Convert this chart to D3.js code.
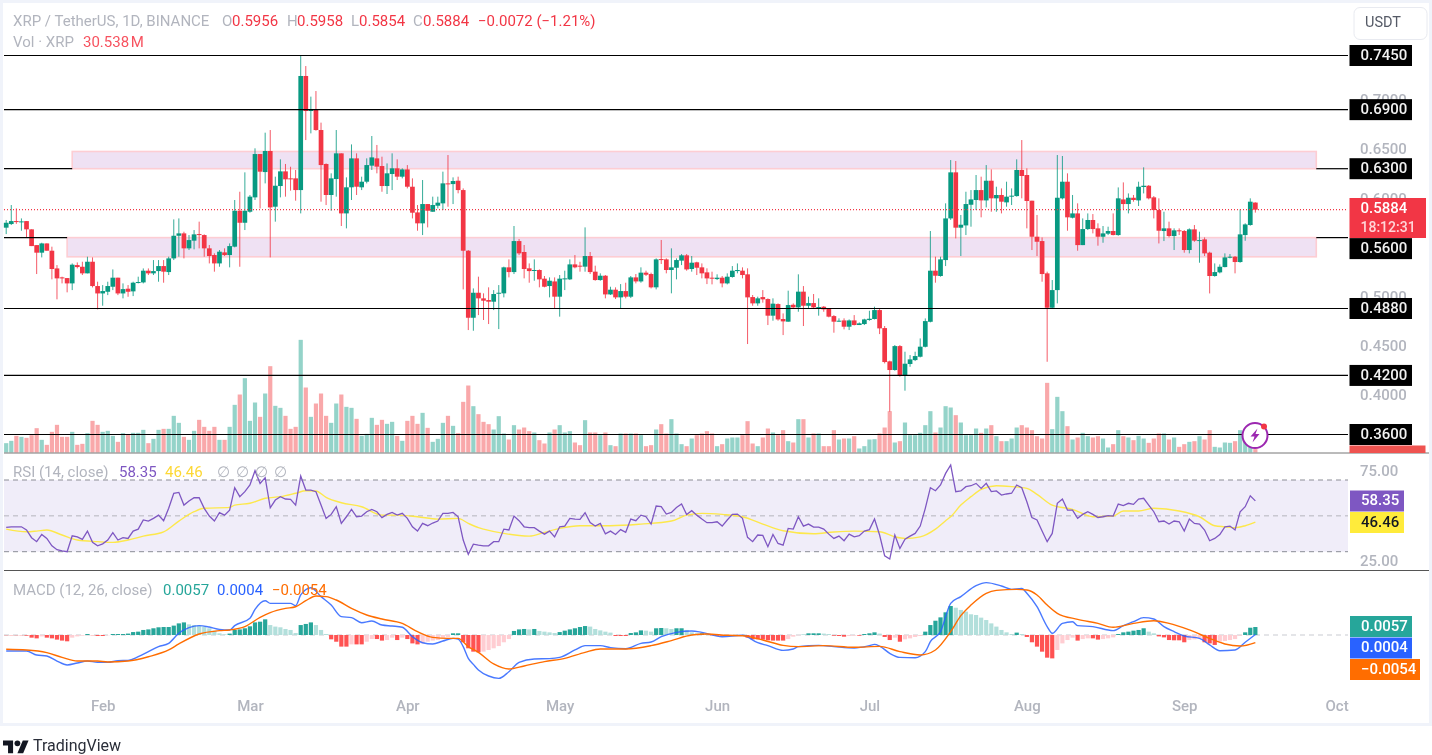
<!DOCTYPE html>
<html><head><meta charset="utf-8">
<script src="https://cdn.jsdelivr.net/npm/d3@7/dist/d3.min.js"></script>
<style>
html,body{margin:0;padding:0;background:#fff;overflow:hidden}
svg{display:block;filter:blur(.5px)}
text{font-family:Roboto,"Open Sans",sans-serif}
</style></head><body><svg id="c" width="1432" height="755"></svg>
<script>
const firstDay = "2024-01-13";
const opens=[
.5701,.5738,.5768,.5755,.5768,.5684,.5524,.5447,.5541,.5467,
.5287,.5196,.5189,.5135,.5321,.5304,.5237,.5355,.5108,.5033,
.5050,.5101,.5193,.5033,.5081,.5054,.5142,.5145,.5264,.5237,
.5260,.5311,.5250,.5389,.5619,.5643,.5491,.5569,.5636,.5626,
.5491,.5423,.5338,.5450,.5423,.5508,.5873,.5751,.5863,.6009,
.6449,.6266,.6480,.5914,.6124,.6273,.6202,.6202,.6083,.7242,
.6886,.6900,.6693,.6348,.6033,.6195,.6456,.5846,.6111,.6405,
.6111,.6168,.6331,.6405,.6327,.6124,.6246,.6304,.6219,.6293,
.6117,.5856,.5745,.5941,.5863,.5924,.5948,.6151,.6144,.6178,
.6083,.5467,.4786,.5040,.4983,.4966,.4949,.5030,.5034,.5298,
.5250,.5565,.5454,.5288,.5264,.5271,.5183,.5108,.5155,.5000,
.5176,.5176,.5328,.5315,.5305,.5413,.5254,.5169,.5213,.5023,
.5071,.4993,.5057,.5000,.5196,.5155,.5244,.5230,.5095,.5382,
.5379,.5271,.5294,.5366,.5420,.5281,.5349,.5298,.5247,.5193,
.5179,.5193,.5135,.5200,.5260,.5264,.5227,.4996,.4932,.4996,
.4976,.4807,.4925,.4773,.4746,.4918,.4891,.5051,.4908,.4935,
.4888,.4898,.4881,.4803,.4746,.4759,.4695,.4759,.4712,.4722,
.4763,.4773,.4864,.4681,.4343,.4255,.4498,.4200,.4316,.4356,
.4390,.4491,.4745,.5264,.5210,.5372,.5795,.6263,.5701,.5724,
.5934,.5982,.6083,.5978,.6178,.5999,.6033,.5958,.6016,.6022,
.6287,.6236,.5975,.5609,.5565,.5237,.4888,.5067,.5999,.6168,
.5802,.5846,.5524,.5687,.5779,.5694,.5609,.5640,.5667,.5626,
.5988,.5941,.6005,.5978,.6114,.6127,.6009,.5880,.5667,.5694,
.5616,.5674,.5667,.5474,.5684,.5569,.5582,.5447,.5210,.5247,
.5301,.5396,.5406,.5352,.5626,.5728,.5956];
const highs=[
.5779,.5931,.5897,.5795,.5768,.5684,.5524,.5548,.5541,.5508,
.5321,.5203,.5189,.5338,.5348,.5355,.5406,.5399,.5152,.5118,
.5152,.5277,.5193,.5135,.5118,.5152,.5203,.5287,.5287,.5372,
.5372,.5372,.5406,.5785,.5795,.5660,.5626,.5677,.5762,.5633,
.5525,.5440,.5474,.5491,.5541,.5982,.6066,.6263,.6033,.6507,
.6449,.6666,.6693,.6219,.6395,.6348,.6320,.6287,.7455,.7343,
.7032,.7089,.6768,.6354,.6253,.6693,.6456,.6212,.6547,.6456,
.6219,.6405,.6632,.6541,.6422,.6354,.6456,.6395,.6304,.6337,
.6202,.5931,.6185,.5941,.6016,.6016,.6270,.6439,.6212,.6219,
.6100,.5474,.5084,.5203,.5034,.5095,.5067,.5118,.5305,.5379,
.5718,.5586,.5525,.5338,.5379,.5277,.5210,.5196,.5196,.5220,
.5264,.5379,.5423,.5355,.5704,.5454,.5315,.5237,.5220,.5101,
.5095,.5128,.5142,.5210,.5230,.5298,.5264,.5244,.5389,.5576,
.5389,.5491,.5389,.5433,.5433,.5413,.5355,.5338,.5288,.5254,
.5227,.5210,.5237,.5311,.5338,.5298,.5288,.5017,.5000,.5067,
.4983,.4983,.4932,.4830,.5061,.4932,.5227,.5108,.5000,.5027,
.4983,.4905,.4881,.4813,.4780,.4780,.4769,.4813,.4739,.4776,
.4857,.4898,.4881,.4702,.4350,.4509,.4509,.4441,.4407,.4441,
.4576,.4779,.5667,.5406,.5406,.5948,.6388,.6378,.5830,.6066,
.6083,.6236,.6219,.6337,.6293,.6117,.6100,.6168,.6100,.6395,
.6591,.6304,.5975,.5830,.5602,.5254,.5169,.6439,.6429,.6253,
.6033,.5948,.5795,.5846,.5839,.5745,.5718,.5711,.5846,.6110,
.6161,.6049,.6033,.6168,.6314,.6134,.6022,.5999,.5863,.5762,
.5694,.5694,.5677,.5694,.5728,.5660,.5602,.5457,.5338,.5328,
.5440,.5433,.5413,.5887,.5745,.5999,.5958];
const lows=[
.5636,.5728,.5740,.5670,.5603,.5514,.5230,.5399,.5467,.5176,
.4973,.5135,.5044,.5067,.5287,.5220,.5237,.5094,.4871,.4908,
.5016,.5067,.5016,.4983,.4999,.5006,.5135,.5135,.5220,.5220,
.5152,.5142,.5220,.5372,.5406,.5389,.5474,.5481,.5491,.5406,
.5338,.5254,.5304,.5413,.5298,.5501,.5304,.5677,.5853,.5982,
.5897,.6151,.5399,.5762,.6009,.6016,.6077,.5975,.5846,.6591,
.6659,.6686,.5965,.5931,.5873,.6016,.5718,.5694,.5982,.6033,
.6083,.6151,.6287,.6253,.6066,.6043,.6083,.6185,.6202,.6100,
.5795,.5670,.5626,.5704,.5863,.5897,.5880,.5914,.5941,.6050,
.5074,.4661,.4654,.4813,.4763,.4722,.4864,.4671,.4993,.5196,
.5230,.5423,.5186,.5142,.5162,.5095,.5095,.4993,.4881,.4797,
.5067,.5169,.5288,.5254,.5254,.5230,.5162,.5162,.4983,.5017,
.4976,.4881,.4983,.4986,.5135,.5142,.5210,.5084,.5074,.5332,
.5237,.5034,.5176,.5321,.5264,.5254,.5220,.5186,.5128,.5125,
.5169,.5095,.5125,.5193,.5237,.5186,.4519,.4908,.4908,.4939,
.4712,.4756,.4756,.4610,.4746,.4881,.4847,.4702,.4881,.4881,
.4807,.4847,.4790,.4634,.4746,.4668,.4661,.4708,.4712,.4712,
.4756,.4769,.4620,.4322,.3831,.4248,.4187,.4045,.4288,.4346,
.4383,.4485,.4739,.5142,.5203,.5311,.5780,.5592,.5413,.5626,
.5711,.5880,.5806,.5907,.5863,.5863,.5846,.5914,.5931,.6016,
.5999,.5694,.5474,.5413,.5152,.4339,.4881,.4932,.5988,.5670,
.5795,.5467,.5524,.5677,.5643,.5518,.5548,.5626,.5623,.5619,
.5887,.5846,.5965,.5921,.6049,.5988,.5795,.5541,.5565,.5602,
.5474,.5626,.5447,.5440,.5558,.5345,.5413,.5033,.5203,.5237,
.5298,.5389,.5237,.5345,.5568,.5721,.5854];
const closes=[
.5751,.5768,.5762,.5765,.5684,.5514,.5447,.5541,.5467,.5281,
.5186,.5186,.5135,.5325,.5301,.5237,.5355,.5108,.5033,.5057,
.5108,.5193,.5033,.5077,.5050,.5142,.5149,.5264,.5237,.5260,
.5311,.5254,.5389,.5619,.5643,.5491,.5575,.5633,.5626,.5491,
.5413,.5338,.5457,.5423,.5514,.5873,.5751,.5873,.6016,.6449,
.6270,.6480,.5907,.6127,.6273,.6192,.6192,.6083,.7242,.6886,
.6900,.6693,.6337,.6033,.6202,.6456,.5846,.6111,.6405,.6117,
.6168,.6337,.6415,.6321,.6124,.6253,.6304,.6219,.6293,.6117,
.5853,.5745,.5941,.5873,.5931,.5955,.6151,.6144,.6175,.6083,
.5467,.4786,.5040,.4983,.4959,.4949,.5027,.5040,.5298,.5250,
.5565,.5440,.5281,.5260,.5271,.5176,.5101,.5162,.5000,.5183,
.5186,.5328,.5298,.5305,.5413,.5250,.5169,.5213,.5023,.5071,
.4993,.5057,.5000,.5196,.5155,.5244,.5223,.5095,.5379,.5372,
.5271,.5298,.5372,.5420,.5277,.5345,.5294,.5237,.5186,.5183,
.5193,.5135,.5203,.5264,.5271,.5220,.4993,.4932,.4983,.4973,
.4807,.4929,.4769,.4749,.4915,.4891,.5051,.4908,.4935,.4891,
.4895,.4871,.4797,.4746,.4756,.4695,.4759,.4712,.4729,.4769,
.4776,.4864,.4678,.4336,.4255,.4498,.4200,.4319,.4363,.4397,
.4492,.4752,.5264,.5213,.5379,.5795,.6263,.5701,.5731,.5941,
.5988,.6083,.5978,.6178,.5999,.6033,.5965,.6016,.6026,.6287,
.6226,.5972,.5609,.5558,.5230,.4888,.5067,.6005,.6168,.5806,
.5846,.5524,.5687,.5779,.5687,.5609,.5643,.5667,.5626,.5999,
.5941,.6005,.5982,.6117,.6127,.5999,.5880,.5670,.5694,.5616,
.5674,.5667,.5474,.5684,.5569,.5575,.5440,.5210,.5250,.5304,
.5399,.5406,.5352,.5633,.5734,.5965,.5884];
const volumesM=[
84,105,150,141,132,156,219,114,69,186,
249,141,141,186,69,78,174,285,249,186,
195,150,96,174,159,177,177,204,84,123,
204,213,213,330,267,141,114,195,294,231,
195,231,114,114,231,429,522,669,285,450,
321,531,777,420,402,330,213,231,1014,585,
321,441,531,330,267,441,522,411,402,303,
150,168,312,249,294,258,276,150,105,285,
330,258,357,222,96,123,267,330,240,174,
456,603,417,345,276,255,207,327,171,117,
246,207,225,192,180,111,81,180,207,246,
180,192,90,66,291,180,180,156,180,66,
57,171,171,171,171,156,57,66,207,255,
171,300,171,75,57,126,156,171,192,171,
57,75,126,135,135,156,282,81,57,135,
216,180,156,201,102,90,300,300,135,171,
171,57,57,201,117,126,126,147,36,57,
117,120,171,225,372,90,102,270,156,156,
177,246,372,180,225,417,405,336,270,156,
156,216,177,216,246,147,102,102,126,225,
246,225,201,147,126,627,210,501,372,237,
117,135,177,147,135,147,126,45,75,201,
147,135,111,150,126,87,126,171,171,117,
135,51,75,96,102,147,117,201,51,45,
90,87,102,201,156,66,30.538];
const rsiValues=[
43.6,43.9,43.9,43.9,42.1,37.8,35.6,39.6,37.4,33.3,
31.1,30.5,30.0,38.9,38.3,36.9,41.5,35.2,33.3,34.4,
36.5,40.6,36.5,37.8,37.4,41.5,42.6,47.7,47.1,48.6,
50.4,47.3,54.2,62.6,63.1,56.0,58.3,60.1,60.1,54.2,
49.9,47.1,51.8,50.4,53.2,65.7,60.7,63.5,67.2,75.2,
68.1,71.3,54.5,58.8,60.7,59.4,59.2,56.0,72.2,64.4,
64.4,63.5,56.0,48.6,50.8,55.1,45.8,49.5,53.6,49.5,
49.9,52.3,53.6,52.3,49.0,50.8,51.9,50.4,51.4,48.6,
43.9,41.5,45.8,44.5,46.0,47.1,51.4,51.4,51.9,49.5,
36.5,28.5,34.2,33.7,33.3,33.3,35.6,35.6,42.6,42.1,
49.9,47.3,43.9,43.4,43.4,41.5,39.8,41.5,38.3,43.9,
44.3,48.6,48.2,48.0,51.8,46.2,44.3,45.8,40.0,41.5,
39.6,42.3,40.8,48.2,47.3,50.4,49.5,45.4,55.5,55.1,
51.0,51.9,54.7,56.6,50.8,52.9,50.4,48.2,46.2,46.2,
46.7,44.3,47.7,50.8,51.0,48.6,38.0,35.6,39.3,39.1,
32.8,39.6,34.6,33.7,43.0,42.6,49.5,44.3,45.4,43.7,
43.7,42.6,39.8,37.4,38.7,36.1,39.8,38.3,38.9,41.5,
42.3,48.2,39.3,27.7,25.9,39.3,31.8,37.0,38.7,40.2,
44.3,54.2,65.7,64.0,67.2,73.7,78.4,63.5,63.9,66.3,
66.8,68.1,65.3,68.1,63.5,63.9,61.6,62.2,62.6,67.2,
65.7,57.9,49.0,47.7,41.5,35.6,40.2,57.0,59.4,53.2,
53.2,48.6,50.8,52.3,50.8,49.1,49.5,50.1,49.9,56.6,
55.7,57.0,56.4,59.4,59.8,56.0,52.3,46.7,47.1,45.4,
47.1,46.7,41.5,48.2,45.8,45.4,42.1,36.1,37.4,39.6,
43.9,44.3,42.1,52.3,55.1,61.2,58.35];
const rsiMaDays=[0,4,6,8,11,14,18,21,24,27,31,34,37,39,44,45,48,51,54,57,59,61,63,66,70,74,77,81,85,89,91,93,94,98,103,106,109,113,119,125,131,134,137,141,145,149,153,159,163,167,172,175,177,180,183,185,186,188,190,192,195,198,201,203,206,210,214,218,220,223,226,231,235,238,240,242,244,246];
const rsiMaValues=[42.6,41.1,41.5,42.1,39.3,36.5,35.6,35.2,36.5,38.7,41.1,47.1,52.3,54.2,54.7,56.0,57.0,59.8,60.7,62.6,64.0,63.9,60.3,57.3,55.1,50.4,50.4,49.5,48.2,48.6,45.8,43.4,42.6,40.2,38.7,40.8,43.0,44.5,44.5,45.4,47.1,50.4,51.4,50.8,49.5,45.4,41.7,40.0,41.0,41.5,41.1,38.3,37.4,38.3,42.6,47.3,49.5,56.0,60.7,64.8,66.8,66.3,65.3,62.0,56.0,53.6,49.5,49.9,52.7,52.7,54.2,52.7,49.5,44.5,43.9,43.4,44.5,46.46];
const macdDays=[0,4,6,8,10,12,14,16,18,20,22,24,26,28,30,32,34,36,38,40,42,44,45,48,49,51,52,54,56,57,58,60,62,64,66,68,70,72,74,76,78,80,82,84,86,88,89,90,91,92,93,95,97,99,101,104,107,109,112,114,117,119,122,125,127,129,132,135,137,141,145,148,150,153,155,156,160,163,167,170,171,172,174,176,179,181,182,184,186,188,191,193,196,198,200,201,203,205,206,208,210,211,214,218,220,222,224,226,228,230,232,235,237,239,242,244,246];
const macdValues=[-.0114,-.0114,-.0143,-.0150,-.0186,-.0214,-.0200,-.0186,-.0195,-.0195,-.0183,-.0181,-.0155,-.0119,-.0083,-.0060,.0012,.0052,.0067,.0057,.0040,.0036,.0067,.0119,.0183,.0245,.0226,.0226,.0226,.0210,.0286,.0338,.0274,.0214,.0131,.0124,.0088,.0100,.0071,.0064,.0055,-.0012,-.0055,-.0064,-.0043,-.0024,-.0029,-.0083,-.0167,-.0210,-.0250,-.0293,-.0310,-.0262,-.0195,-.0171,-.0169,-.0160,-.0107,-.0076,-.0076,-.0090,-.0098,-.0060,-.0050,-.0012,.0019,.0029,.0019,-.0012,-.0002,-.0055,-.0076,-.0110,-.0100,-.0083,-.0074,-.0083,-.0093,-.0076,-.0067,-.0079,-.0131,-.0160,-.0162,-.0119,-.0048,.0024,.0226,.0274,.0352,.0374,.0350,.0326,.0333,.0298,.0202,.0060,.0012,.0083,.0095,.0067,.0060,.0031,.0067,.0095,.0124,.0114,.0060,.0024,-.0007,-.0024,-.0071,-.0112,-.0107,-.0052,.0004];
const signalDays=[0,4,8,11,14,18,20,24,28,32,34,38,42,44,47,50,52,55,57,59,61,63,65,68,71,74,78,81,84,87,89,91,93,96,99,102,106,110,114,117,122,127,131,135,138,142,145,149,153,156,161,167,172,176,180,183,186,188,190,193,195,199,201,203,205,207,211,215,218,222,226,229,233,237,240,243,246];
const signalValues=[-.0102,-.0107,-.0126,-.0160,-.0186,-.0186,-.0193,-.0186,-.0155,-.0107,-.0064,.0007,.0031,.0036,.0060,.0126,.0160,.0190,.0202,.0245,.0279,.0274,.0250,.0190,.0143,.0114,.0083,.0024,-.0017,-.0024,-.0024,-.0083,-.0124,-.0207,-.0243,-.0221,-.0190,-.0167,-.0124,-.0100,-.0100,-.0076,-.0040,0,.0007,-.0002,-.0005,-.0036,-.0074,-.0083,-.0076,-.0088,-.0081,-.0119,-.0143,-.0107,.0024,.0138,.0214,.0298,.0319,.0326,.0321,.0286,.0214,.0155,.0112,.0083,.0055,.0083,.0102,.0083,.0036,-.0024,-.0064,-.0079,-.0054];
const histValues=[
-.0002,-.0002,-.0002,-.0002,-.0005,-.0019,-.0024,-.0010,-.0019,-.0024,
-.0033,-.0040,-.0045,-.0019,-.0010,-.0005,.0007,-.0002,-.0007,-.0007,
-.0002,.0007,.0007,.0007,.0010,.0021,.0024,.0036,.0040,.0048,
.0055,.0057,.0057,.0067,.0083,.0090,.0076,.0071,.0067,.0060,
.0048,.0031,.0012,.0005,.0010,.0036,.0040,.0048,.0062,.0090,
.0095,.0112,.0071,.0060,.0055,.0043,.0036,.0014,.0071,.0079,
.0090,.0071,.0036,.0007,-.0031,-.0048,-.0083,-.0083,-.0067,-.0067,
-.0067,-.0048,-.0029,-.0029,-.0040,-.0036,-.0019,-.0036,-.0019,-.0029,
-.0060,-.0067,-.0060,-.0048,-.0040,-.0036,-.0019,-.0014,.0012,.0012,
-.0052,-.0095,-.0119,-.0124,-.0119,-.0107,-.0095,-.0079,-.0052,-.0029,
.0029,.0040,.0043,.0040,.0043,.0029,.0024,.0019,.0014,.0021,
.0031,.0040,.0048,.0057,.0064,.0060,.0043,.0033,.0024,.0017,
-.0007,-.0007,-.0007,.0014,.0019,.0033,.0031,.0024,.0048,.0050,
.0048,.0043,.0048,.0048,.0036,.0019,.0012,.0012,.0007,-.0002,
-.0005,-.0005,-.0005,-.0005,-.0005,-.0005,-.0019,-.0031,-.0031,-.0033,
-.0038,-.0040,-.0040,-.0040,-.0029,-.0012,-.0002,.0002,.0012,.0012,
.0012,.0010,.0007,-.0005,-.0007,-.0012,-.0007,-.0005,-.0005,.0007,
.0012,.0019,.0010,-.0014,-.0036,-.0019,-.0048,-.0031,-.0024,-.0014,
-.0007,.0024,.0071,.0102,.0126,.0162,.0207,.0195,.0179,.0167,
.0148,.0143,.0124,.0107,.0083,.0060,.0036,.0019,.0007,.0017,
.0007,-.0014,-.0052,-.0083,-.0119,-.0162,-.0167,-.0107,-.0060,-.0036,
-.0019,-.0040,-.0029,-.0024,-.0024,-.0033,-.0029,-.0024,-.0017,.0007,
.0019,.0024,.0031,.0036,.0048,.0024,.0012,-.0010,-.0017,-.0036,
-.0038,-.0038,-.0052,-.0036,-.0031,-.0024,-.0052,-.0060,-.0071,-.0048,
-.0043,-.0036,-.0029,-.0005,.0019,.0052,.0057];
const priceTicks=[.70,.65,.60,.50,.45,.40];
const levels=[.745,.69,.63,.56,.488,.42,.36];
const zones=[{lo:.63,hi:.6475,from:"2024-01-26",to:"2024-09-27"},{lo:.5405,hi:.56,from:"2024-01-25",to:"2024-09-27"}];
const monthTicks=["2024-02-01","2024-03-01","2024-04-01","2024-05-01","2024-06-01","2024-07-01","2024-08-01","2024-09-01","2024-10-01"];
const lastClose=.5884;

const GREEN="#089981",RED="#f23645";
const svg=d3.select("#c");
const L=4,R=1348;
const parse=d3.utcParse("%Y-%m-%d");
const day0=parse(firstDay);
const dayAt=i=>d3.utcDay.offset(day0,i);
const x=d3.scaleUtc().domain([day0,parse("2024-10-01")]).range([6.2,1336.6]);
const xi=i=>x(dayAt(i));
const yP=d3.scaleLinear().domain([.36,.745]).range([434.5,55.5]);
const yV=d3.scaleLinear().domain([0,1000]).range([452.5,341.4]);
const yR=d3.scaleLinear().domain([30,70]).range([551.7,480]);
const yM=d3.scaleLinear().domain([-.06,.06]).range([719,551]);
const idx=d3.range(closes.length);

// frame
svg.append("rect").attr("width",1432).attr("height",755).attr("fill","#fff");
svg.append("rect").attr("x",1.5).attr("y",1.5).attr("width",1429).attr("height",723).attr("fill","none").attr("stroke","#f0f3fa").attr("stroke-width",3);

// zones
svg.selectAll("rect.z").data(zones).join("rect").attr("class","z")
 .attr("x",d=>x(parse(d.from))).attr("width",d=>x(parse(d.to))-x(parse(d.from)))
 .attr("y",d=>yP(d.hi)).attr("height",d=>yP(d.lo)-yP(d.hi))
 .attr("fill","#efe1f3").attr("stroke","#fdcdd3").attr("stroke-width",1.6);

// volume
const vw=4.2,bw=4.7;
svg.append("g").selectAll("rect").data(idx).join("rect")
 .attr("x",i=>xi(i)-vw/2).attr("width",vw)
 .attr("y",i=>yV(volumesM[i])).attr("height",i=>yV(0)-yV(volumesM[i]))
 .attr("fill",i=>closes[i]>=opens[i]?"#94d3c9":"#f9a8aa");

// candles
const cg=svg.append("g");
cg.selectAll("line").data(idx).join("line")
 .attr("x1",i=>xi(i)).attr("x2",i=>xi(i)).attr("y1",i=>yP(highs[i])).attr("y2",i=>yP(lows[i]))
 .attr("stroke",i=>closes[i]>=opens[i]?GREEN:RED).attr("stroke-width",1).attr("stroke-opacity",.82);
cg.selectAll("rect").data(idx).join("rect")
 .attr("x",i=>xi(i)-bw/2).attr("width",bw)
 .attr("y",i=>yP(Math.max(opens[i],closes[i])))
 .attr("height",i=>Math.max(1,Math.abs(yP(opens[i])-yP(closes[i]))))
 .attr("fill",i=>closes[i]>=opens[i]?GREEN:RED);

// dotted last price
svg.append("line").attr("x1",L).attr("x2",R).attr("y1",yP(lastClose)).attr("y2",yP(lastClose))
 .attr("stroke",RED).attr("stroke-dasharray","1 2").attr("stroke-width",1.1);

// level lines (the two that meet a zone stop at its edges)
const lv=svg.append("g").attr("stroke","#000").attr("stroke-width",1.2);
levels.forEach(v=>{
 const z=zones.find(z=>Math.abs(z.lo-v)<1e-9||Math.abs(z.hi-v)<1e-9);
 const segs=z?[[L,x(parse(z.from))],[x(parse(z.to)),R]]:[[L,R]];
 segs.forEach(s=>lv.append("line").attr("x1",s[0]).attr("x2",s[1]).attr("y1",yP(v)).attr("y2",yP(v)));
});

// separators
svg.append("line").attr("x1",L).attr("x2",1429).attr("y1",453).attr("y2",453).attr("stroke","#777");
svg.append("line").attr("x1",L).attr("x2",1429).attr("y1",570.5).attr("y2",570.5).attr("stroke","#555");

// price axis
const ax=svg.append("g").attr("transform","translate(1360,0)")
 .call(d3.axisRight(yP).tickValues(priceTicks).tickSize(0).tickPadding(0).tickFormat(d3.format(".4f")));
ax.select(".domain").remove();
ax.selectAll("text").attr("fill","#b2b5be").style("font-size","15px").style("font-family","Roboto").style("font-weight","500");

// level tags
const tag=(x0,yc,w,h,fill,txt,col,size)=>{
 svg.append("rect").attr("x",x0).attr("y",yc-h/2).attr("width",w).attr("height",h).attr("fill",fill);
 svg.append("text").attr("x",x0+11).attr("y",yc+.5).attr("dominant-baseline","middle").attr("fill",col).attr("font-size",size||15).attr("font-weight",500).text(txt);
};
levels.forEach(v=>tag(1349.5,yP(v)+(v===.56?11:0),62.5,21,"#000",d3.format(".4f")(v),"#f2f2f2"));
// volume tag, cut by the pane edge
svg.append("rect").attr("x",1349.5).attr("y",445.5).attr("width",76).attr("height",7.5).attr("fill","#ef5350");
// last price tag
svg.append("rect").attr("x",1349.5).attr("y",198).attr("width",76.5).attr("height",40).attr("fill",RED);
svg.append("text").attr("x",1360.5).attr("y",209.5).attr("dominant-baseline","middle").attr("fill","#fff").attr("font-size",15).attr("font-weight",500).text("0.5884");
svg.append("text").attr("x",1360.5).attr("y",228).attr("dominant-baseline","middle").attr("fill","#ffd5d8").attr("font-size",14).attr("font-weight",500).text("18:12:31");

// RSI pane
svg.append("rect").attr("x",L).attr("width",R-L).attr("y",yR(70)).attr("height",yR(30)-yR(70)).attr("fill","#f0edf9");
[70,30].forEach(v=>svg.append("line").attr("x1",L).attr("x2",R).attr("y1",yR(v)).attr("y2",yR(v)).attr("stroke","#8b8d96").attr("stroke-dasharray","5 4"));
svg.append("line").attr("x1",L).attr("x2",R).attr("y1",yR(50)).attr("y2",yR(50)).attr("stroke","#b4b5bc").attr("stroke-dasharray","5 4");
svg.append("path").attr("fill","none").attr("stroke","#fde84b").attr("stroke-width",1.4)
 .datum(rsiMaDays.map((d,i)=>[d,rsiMaValues[i]]))
 .attr("d",d3.line().x(d=>xi(d[0])).y(d=>yR(d[1])).curve(d3.curveMonotoneX));
svg.append("path").datum(idx).attr("fill","none").attr("stroke","#7e57c2").attr("stroke-width",1.3)
 .attr("d",d3.line().x(i=>xi(i)).y(i=>yR(rsiValues[i])));
const rAx=svg.append("g").attr("transform","translate(1360,0)")
 .call(d3.axisRight(d3.scaleLinear().domain([25,75]).range([561,471])).tickValues([75,25]).tickSize(0).tickPadding(0).tickFormat(d3.format(".2f")));
rAx.select(".domain").remove();
rAx.selectAll("text").attr("fill","#b2b5be").style("font-size","15px").style("font-family","Roboto").style("font-weight","500");
tag(1350,501,54,21,"#7e57c2","58.35","#fff");
tag(1350,522.5,54,21,"#ffeb3b","46.46","#131722");

// MACD pane
svg.append("line").attr("x1",L).attr("x2",R).attr("y1",yM(0)).attr("y2",yM(0)).attr("stroke","#c9cbd1").attr("stroke-dasharray","5 4");
svg.append("g").selectAll("rect").data(idx).join("rect")
 .attr("x",i=>xi(i)-vw/2).attr("width",vw)
 .attr("y",i=>yM(Math.max(0,histValues[i])))
 .attr("height",i=>Math.abs(yM(histValues[i])-yM(0)))
 .attr("fill",i=>{const v=histValues[i],p=i?histValues[i-1]:0;return v>=0?(v>=p?"#26a69a":"#b2dfdb"):(v<=p?"#ff5252":"#ffcdd2");});
const mLine=d3.line().x(d=>xi(d[0])).y(d=>yM(d[1])).curve(d3.curveMonotoneX);
svg.append("path").datum(macdDays.map((d,i)=>[d,macdValues[i]])).attr("fill","none").attr("stroke","#2962ff").attr("stroke-width",1.4).attr("d",mLine).attr("stroke-opacity",.85);
svg.append("path").datum(signalDays.map((d,i)=>[d,signalValues[i]])).attr("fill","none").attr("stroke","#ff6d00").attr("stroke-width",1.4).attr("d",mLine);
tag(1350,626.5,62,21,"#26a69a","0.0057","#fff");
tag(1350,648,62,21,"#2962ff","0.0004","#fff");
svg.append("rect").attr("x",1350).attr("y",659).attr("width",70).attr("height",21).attr("fill","#ff6d00");
svg.append("text").attr("x",1361).attr("y",670).attr("dominant-baseline","middle").attr("fill","#fff").attr("font-size",15).attr("font-weight",500).text("\u22120.0054");

// time axis
const tAx=svg.append("g").attr("transform","translate(0,692)")
 .call(d3.axisBottom(x).tickValues(monthTicks.map(parse)).tickSize(0).tickPadding(8).tickFormat(d3.utcFormat("%b")));
tAx.select(".domain").remove();
tAx.selectAll("text").attr("fill","#b2b5be").style("font-size","15px").style("font-family","Roboto").style("font-weight","500");

// legends
const t=(px,py,s,c,sz,w)=>svg.append("text").attr("x",px).attr("y",py).attr("dominant-baseline","middle").attr("fill",c).attr("font-size",sz||15).attr("font-weight",w||400).text(s);
const G="#b2b5be";
t(13,22.5,"XRP / TetherUS, 1D, BINANCE",G);
t(222,22.5,"O",G);t(232,22.5,"0.5956",RED);
t(287,22.5,"H",G);t(297,22.5,"0.5958",RED);
t(351,22.5,"L",G);t(359,22.5,"0.5854",RED);
t(413,22.5,"C",G);t(423,22.5,"0.5884",RED);
t(478,22.5,"\u22120.0072 (\u22121.21%)",RED);
t(13,43.5,"Vol \u00b7 XRP",G);t(83,43.5,"30.538\u200aM","#f7525f");
t(13,473,"RSI (14, close)",G);t(119,473,"58.35","#7e57c2");t(165,473,"46.46","#fdd835");
[217,236,255,274].forEach(p=>t(p,473,"\u2205",G));
t(13,591,"MACD (12, 26, close)",G);t(163,591,"0.0057","#26a69a");t(217,591,"0.0004","#2962ff");t(272,591,"\u22120.0054","#ff6d00");

// currency button
svg.append("rect").attr("x",1354).attr("y",7.5).attr("width",73).attr("height",32).attr("rx",6).attr("fill","#fff").attr("stroke","#e8eaf0");
svg.append("text").attr("x",1383).attr("y",23.5).attr("text-anchor","middle").attr("dominant-baseline","middle").attr("fill","#555a66").attr("font-size",14.5).text("USDT");

// bolt badge
const b=svg.append("g").attr("transform","translate(1255,435.5)");
b.append("circle").attr("r",12.5).attr("fill","#fff").attr("stroke","#9c27b0").attr("stroke-width",2);
b.append("path").attr("d","M2.5 -7 L-4.5 1 L-0.5 1 L-2.5 7 L4.5 -1.5 L0.5 -1.5 Z").attr("fill","#9c27b0");
b.append("circle").attr("cx",9).attr("cy",-9).attr("r",3).attr("fill","#f23645");

// brand
const lg=svg.append("g").attr("transform","translate(3,737.5) scale(.72)").attr("fill","#131722");
lg.append("path").attr("d","M14 22H7V11H0V4h14v18zM28 22h-8l7.5-18h8L28 22z");
lg.append("circle").attr("cx",20).attr("cy",8).attr("r",4);
svg.append("text").attr("x",33).attr("y",747).attr("dominant-baseline","middle").attr("fill","#2a2e39").attr("font-size",16).text("TradingView");
</script></body></html>
